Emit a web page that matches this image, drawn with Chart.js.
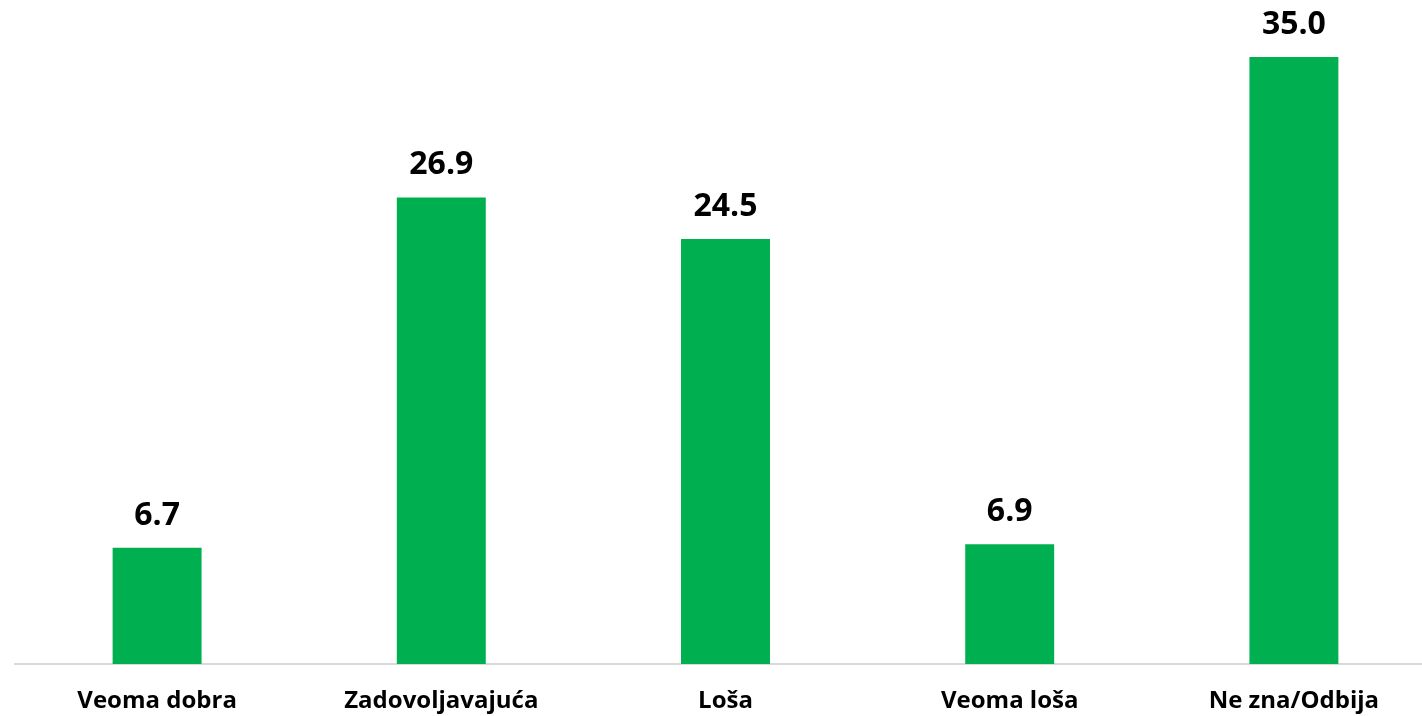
<!DOCTYPE html>
<html>
<head>
<meta charset="utf-8">
<script src="https://cdn.jsdelivr.net/npm/chart.js@4/dist/chart.umd.min.js"></script>
<style>
  html, body { margin: 0; padding: 0; background: #fff; overflow: hidden; }
  #wrap { position: relative; width: 1436px; height: 716px; }
</style>
</head>
<body>
<div id="wrap"><canvas id="chart"></canvas></div>
<script>
// Kategorije i vrijednosti (%)
var categories = ['Veoma dobra', 'Zadovoljavajuća', 'Loša', 'Veoma loša', 'Ne zna/Odbija'];
var values = [6.7, 26.9, 24.5, 6.9, 35.0];

var fontFamily = '"Open Sans", Lato, sans-serif';

// Brojevi iznad stupaca
var valueLabels = {
    id: 'valueLabels',
    afterDatasetsDraw: function (chart) {
        var ctx = chart.ctx;
        var meta = chart.getDatasetMeta(0);
        ctx.save();
        ctx.font = 'bold 32px ' + fontFamily;
        ctx.fillStyle = '#000';
        ctx.textAlign = 'center';
        ctx.textBaseline = 'alphabetic';
        meta.data.forEach(function (bar, i) {
            ctx.fillText(values[i].toFixed(1), bar.x, bar.y - 23);
        });
        ctx.restore();
    }
};

new Chart(document.getElementById('chart').getContext('2d'), {
    type: 'bar',
    data: {
        labels: categories,
        datasets: [{
            data: values,
            backgroundColor: '#00B050',
            barPercentage: 1,
            categoryPercentage: 0.313
        }]
    },
    options: {
        responsive: true,
        maintainAspectRatio: false,
        animation: false,
        layout: { padding: { left: 15, right: 0, top: 5, bottom: 0 } },
        plugins: {
            legend: { display: false },
            tooltip: { enabled: false }
        },
        scales: {
            x: {
                grid: { display: false },
                border: { color: '#d9d9d9', width: 2 },
                afterFit: function (scale) { scale.height = 52; },
                ticks: {
                    color: '#000',
                    padding: 15,
                    maxRotation: 0,
                    font: { family: fontFamily, size: 24, weight: 'bold' }
                }
            },
            y: {
                display: false,
                min: 0,
                max: 38
            }
        }
    },
    plugins: [valueLabels]
});
</script>
</body>
</html>
